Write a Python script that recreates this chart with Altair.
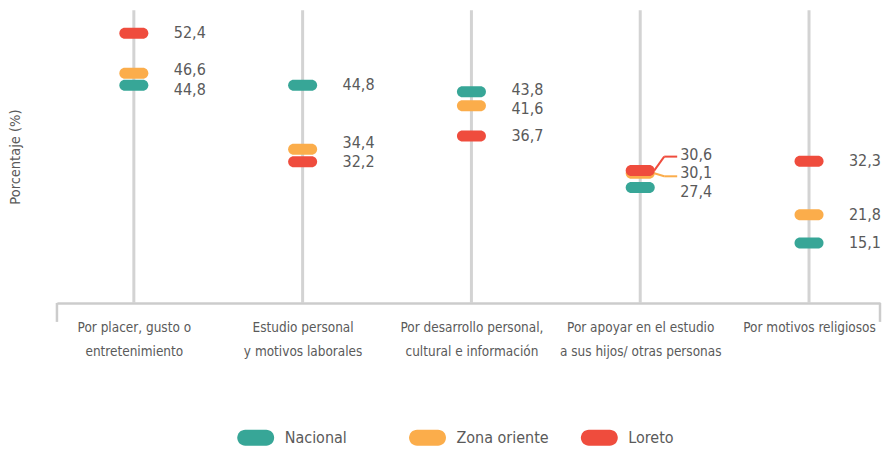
import altair as alt
import pandas as pd

categories = [
    "Por placer, gusto o|entretenimiento",
    "Estudio personal|y motivos laborales",
    "Por desarrollo personal,|cultural e información",
    "Por apoyar en el estudio|a sus hijos/ otras personas",
    "Por motivos religiosos",
]
series = ["Nacional", "Zona oriente", "Loreto"]
nacional = [44.8, 44.8, 43.8, 27.4, 15.1]
zona_oriente = [46.6, 34.4, 41.6, 30.1, 21.8]
loreto = [52.4, 32.2, 36.7, 30.6, 32.3]
colors = ["#37a697", "#fbad4b", "#ef4c3d"]

rows = []
for s, vals in zip(series, [nacional, zona_oriente, loreto]):
    for c, v in zip(categories, vals):
        rows.append({"cat": c, "series": s, "v": v,
                     "label": f"{v:.1f}".replace(".", ",")})
df = pd.DataFrame(rows)
cats_df = pd.DataFrame({"cat": categories})

W, H = 824, 293
F = "DejaVu Sans Condensed, DejaVu Sans, sans-serif"
TXT = "#5a5a5a"
GRID = "#d3d3d3"
VAL_FS = 16
DX = 40

marker_path = "M-1.64,-1L1.64,-1A1,1,0,0,1,1.64,1L-1.64,1A1,1,0,0,1,-1.64,-1Z"
legend_path = "M-1.31,-1L1.31,-1A1,1,0,0,1,1.31,1L-1.31,1A1,1,0,0,1,-1.31,-1Z"

xscale = alt.Scale(type="point", domain=categories, padding=0.438, align=0.52)
yscale = alt.Scale(type="pow", exponent=1.5, domain=[-10.28, 55.58], nice=False, zero=False)

x_enc = alt.X("cat:N", scale=xscale, sort=categories,
              axis=alt.Axis(title=None, labelExpr="split(datum.label, '|')",
                            labelFont=F, labelFontSize=13.5, labelColor=TXT,
                            labelLineHeight=24, labelPadding=18, labelAngle=0,
                            labelAlign="center", labelBaseline="top",
                            ticks=False, domainColor="#cccccc", domainWidth=2.5,
                            grid=False))
x_plain = alt.X("cat:N", scale=xscale, sort=categories)
y_plain = alt.Y("v:Q", scale=yscale)

vlines = alt.Chart(cats_df).mark_rule(color=GRID, strokeWidth=3).encode(
    x=x_plain, y=alt.value(0), y2=alt.value(H))

end_df = pd.DataFrame({"k": [0]})
left_tick = alt.Chart(end_df).mark_rule(color="#cccccc", strokeWidth=2.5).encode(
    x=alt.value(0), y=alt.value(H), y2=alt.value(H + 19))
right_tick = alt.Chart(end_df).mark_rule(color="#cccccc", strokeWidth=2.5).encode(
    x=alt.value(W), y=alt.value(H), y2=alt.value(H + 19))

base = alt.Chart(df)

points = base.mark_point(shape=marker_path, size=121, filled=True, opacity=1).encode(
    x=x_enc,
    y=alt.Y("v:Q", scale=yscale,
            axis=alt.Axis(title="Porcentaje (%)", domain=False, ticks=False, labels=False,
                          grid=False, titleFont=F, titleFontSize=14.5, titleColor=TXT,
                          titleFontWeight="normal", titlePadding=34)),
    color=alt.Color("series:N", scale=alt.Scale(domain=series, range=colors),
                    legend=alt.Legend(orient="none", legendX=191, legendY=420,
                                      direction="horizontal", title=None,
                                      symbolType=legend_path, symbolSize=256,
                                      symbolStrokeWidth=0, symbolOpacity=1,
                                      labelFont=F, labelFontSize=16, labelColor=TXT,
                                      labelOffset=21, gridAlign="all", columnPadding=31,
                                      padding=0)),
)

cat4 = categories[3]
# label nudges (pixels) to keep close labels legible, as in the original layout
nudges = [
    (categories[0], "Zona oriente", -3),
    (categories[0], "Nacional", 5),
    (categories[1], "Zona oriente", -6),
    (categories[2], "Nacional", -2),
    (categories[2], "Zona oriente", 3),
    (cat4, "Loreto", -16),
    (cat4, "Zona oriente", 0),
    (cat4, "Nacional", 4),
]

is_nudged = None
for c, s, _ in nudges:
    cond = (alt.datum.cat == c) & (alt.datum.series == s)
    is_nudged = cond if is_nudged is None else (is_nudged | cond)

label_layers = [
    base.mark_text(align="left", baseline="middle", dx=DX, font=F,
                   fontSize=VAL_FS, color=TXT).encode(
        x=x_plain, y=y_plain, text="label:N").transform_filter(~is_nudged)
]
for c, s, d in nudges:
    label_layers.append(
        base.mark_text(align="left", baseline="middle", dx=DX, dy=d, font=F,
                       fontSize=VAL_FS, color=TXT).encode(
            x=x_plain, y=y_plain, text="label:N").transform_filter(
            (alt.datum.cat == c) & (alt.datum.series == s)))


def leader(series_name, color, off):
    src = base.transform_filter((alt.datum.cat == cat4) & (alt.datum.series == series_name))
    enc = dict(x=x_plain, x2="cat:N", y=y_plain, y2="v:Q")
    diag = src.mark_rule(color=color, strokeWidth=2, xOffset=14, x2Offset=24,
                         y2Offset=off).encode(**enc)
    horiz = src.mark_rule(color=color, strokeWidth=2, xOffset=24, x2Offset=DX - 3,
                          yOffset=off, y2Offset=off).encode(**enc)
    return diag + horiz


chart = alt.layer(
    vlines, left_tick, right_tick,
    leader("Zona oriente", colors[1], 3), leader("Loreto", colors[2], -14),
    points, *label_layers,
).properties(width=W, height=H, padding=0, background="white"
).configure_view(stroke=None)

chart.save("out.html", embed_options={"renderer": "svg", "actions": False})
